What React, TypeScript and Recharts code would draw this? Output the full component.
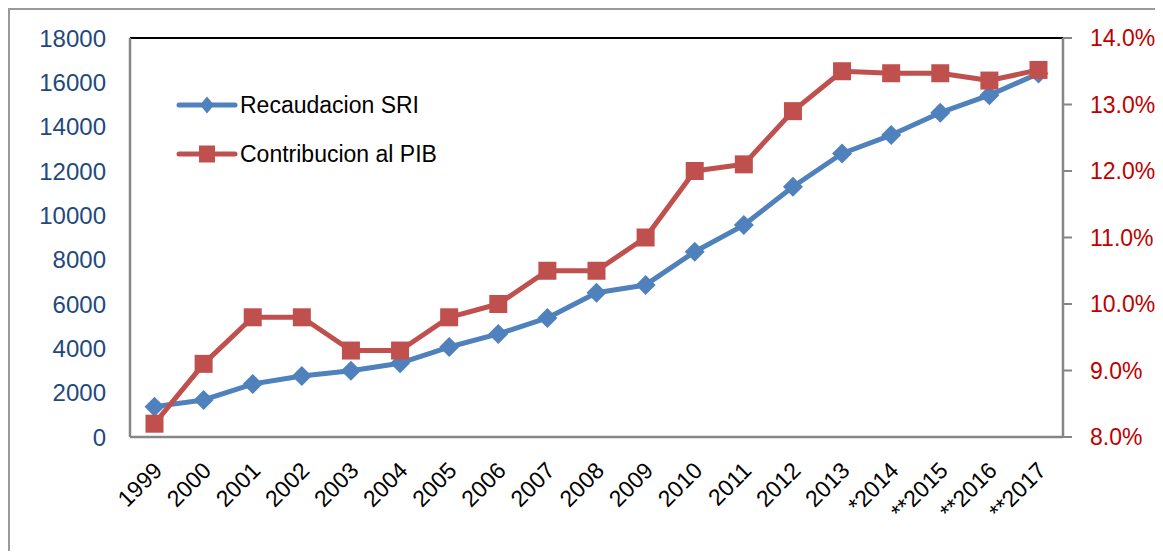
import React from "react";
import {
  ComposedChart,
  Line,
  XAxis,
  YAxis,
  ReferenceLine,
} from "recharts";

// data
const years = [
  "1999", "2000", "2001", "2002", "2003", "2004", "2005", "2006", "2007", "2008",
  "2009", "2010", "2011", "2012", "2013", "*2014", "**2015", "**2016", "**2017",
];
const recaudacion = [
  1370, 1670, 2390, 2750, 2990, 3330, 4060, 4650, 5370, 6510,
  6860, 8360, 9560, 11290, 12790, 13620, 14630, 15420, 16400,
];
const contribucion = [
  8.2, 9.1, 9.8, 9.8, 9.3, 9.3, 9.8, 10.0, 10.5, 10.5,
  11.0, 12.0, 12.1, 12.9, 13.5, 13.47, 13.47, 13.36, 13.52,
];
const leftTicks = [0, 2000, 4000, 6000, 8000, 10000, 12000, 14000, 16000, 18000];
const rightTicks = [8, 9, 10, 11, 12, 13, 14];

const BLUE = "#4F81BD";
const RED = "#C0504D";
const AXIS = "#868686";
const FONT = "'Liberation Sans', Arial, sans-serif";

const data = years.map((y, i) => ({
  year: y,
  sri: recaudacion[i],
  pib: contribucion[i],
}));

const Diamond = (p: any) => {
  const { cx, cy, index } = p;
  if (cx == null || cy == null) return <g key={`dm-${index}`} />;
  return (
    <path
      key={`dm-${index}`}
      d={`M${cx},${cy - 10} L${cx + 10},${cy} L${cx},${cy + 10} L${cx - 10},${cy} Z`}
      fill={BLUE}
    />
  );
};

const Square = (p: any) => {
  const { cx, cy, index } = p;
  if (cx == null || cy == null) return <g key={`sq-${index}`} />;
  return <rect key={`sq-${index}`} x={cx - 9} y={cy - 9} width={18} height={18} fill={RED} />;
};

const YearTick = (p: any) => {
  const { x, y, payload } = p;
  const tx = x + 9;
  const ty = y + 35;
  return (
    <text
      x={tx}
      y={ty}
      transform={`rotate(-45, ${tx}, ${ty})`}
      textAnchor="end"
      fontSize={23}
      fontFamily={FONT}
      fill="#000"
    >
      {payload.value}
    </text>
  );
};

function LegendBox() {
  return (
    <div style={{ position: "absolute", left: 166, top: 81, fontFamily: FONT, fontSize: 23 }}>
      <div style={{ display: "flex", alignItems: "center", height: 28 }}>
        <svg width={64} height={24}>
          <line x1={3} y1={12} x2={59} y2={12} stroke={BLUE} strokeWidth={5} strokeLinecap="round" />
          <path d="M31,3.5 L38,12 L31,20.5 L24,12 Z" fill={BLUE} />
        </svg>
        <span>Recaudacion SRI</span>
      </div>
      <div style={{ display: "flex", alignItems: "center", height: 28, marginTop: 21 }}>
        <svg width={64} height={24}>
          <line x1={3} y1={12} x2={59} y2={12} stroke={RED} strokeWidth={5} strokeLinecap="round" />
          <rect x={23} y={3.5} width={16} height={17} fill={RED} />
        </svg>
        <span>Contribucion al PIB</span>
      </div>
    </div>
  );
}

export default function App() {
  return (
    <div
      style={{
        position: "relative",
        width: 1145,
        height: 541,
        borderLeft: "2px solid #9a9a9a",
        borderTop: "2px solid #9a9a9a",
        background: "#fff",
      }}
    >
      <ComposedChart
        width={1145}
        height={541}
        data={data}
        margin={{ top: 28, right: 2, bottom: 14, left: 30 }}
      >
        <XAxis
          dataKey="year"
          interval={0}
          height={100}
          padding={{ left: 24.5, right: 24.5 }}
          tickLine={false}
          tickSize={0}
          tickMargin={0}
          axisLine={{ stroke: AXIS, strokeWidth: 2.5 }}
          tick={<YearTick />}
        />
        <YAxis
          yAxisId="left"
          domain={[0, 18000]}
          ticks={leftTicks}
          interval={0}
          width={90}
          tickLine={false}
          tickSize={0}
          tickMargin={24}
          axisLine={{ stroke: AXIS, strokeWidth: 2.5 }}
          tick={{ fill: "#1F497D", fontSize: 24, fontFamily: FONT }}
        />
        <YAxis
          yAxisId="right"
          orientation="right"
          domain={[8, 14]}
          ticks={rightTicks}
          interval={0}
          width={90}
          tickSize={9}
          tickMargin={18}
          tickLine={{ stroke: AXIS, strokeWidth: 2 }}
          axisLine={{ stroke: AXIS, strokeWidth: 2.5 }}
          tickFormatter={(v: number) => `${v.toFixed(1)}%`}
          tick={{ fill: "#C00000", fontSize: 23, fontFamily: FONT, textAnchor: "start" }}
        />
        <ReferenceLine yAxisId="left" y={18000} stroke="#000" strokeWidth={2} />
        <Line
          yAxisId="left"
          type="linear"
          dataKey="sri"
          stroke={BLUE}
          strokeWidth={5}
          strokeLinecap="round"
          strokeLinejoin="round"
          dot={Diamond}
          activeDot={false}
          isAnimationActive={false}
        />
        <Line
          yAxisId="right"
          type="linear"
          dataKey="pib"
          stroke={RED}
          strokeWidth={5}
          strokeLinecap="round"
          strokeLinejoin="round"
          dot={Square}
          activeDot={false}
          isAnimationActive={false}
        />
      </ComposedChart>
      <LegendBox />
    </div>
  );
}
